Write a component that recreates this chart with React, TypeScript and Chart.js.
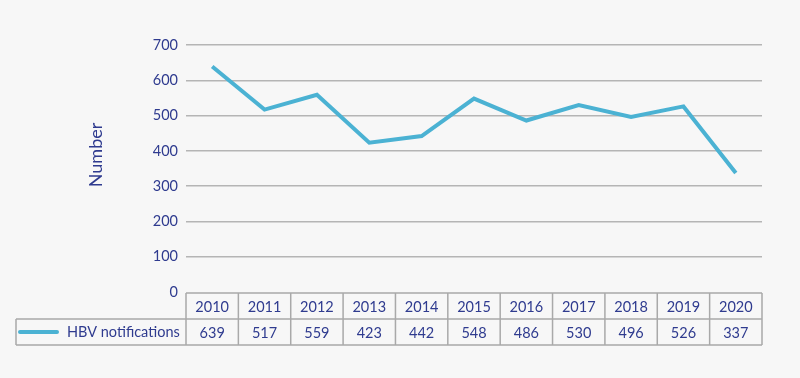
import React, { useEffect, useRef } from "react";
import { Chart, registerables } from "chart.js";

Chart.register(...registerables);

const years = ["2010", "2011", "2012", "2013", "2014", "2015", "2016", "2017", "2018", "2019", "2020"];
const hbvNotifications = [639, 517, 559, 423, 442, 548, 486, 530, 496, 526, 337];
const seriesLabel = "HBV notifications";
const yTitle = "Number";

const NAVY = "#2f3b8f";
const LINE = "#4bb2d3";
const GRID = "#b5b5b5";
const BORDER = "#a9a9a9";
const BG = "#f7f7f7";
const FONT = "Lato, 'Noto Sans', sans-serif";

const tablePlugin = {
  id: "dataTable",
  afterDraw(chart: any) {
    const ctx = chart.ctx;
    const x = chart.scales.x;
    const area = chart.chartArea;
    const top = area.bottom + 1;
    const rowH = 26;
    const left = 16;
    const right = area.right;
    ctx.save();
    ctx.strokeStyle = BORDER;
    ctx.lineWidth = 1.5;
    ctx.beginPath();
    ctx.moveTo(area.left, top);
    ctx.lineTo(right, top);
    ctx.moveTo(left, top + rowH);
    ctx.lineTo(right, top + rowH);
    ctx.moveTo(left, top + 2 * rowH);
    ctx.lineTo(right, top + 2 * rowH);
    ctx.moveTo(left, top + rowH);
    ctx.lineTo(left, top + 2 * rowH);
    const step = (area.right - area.left) / years.length;
    for (let i = 0; i <= years.length; i++) {
      const cx = area.left + i * step;
      ctx.moveTo(cx, top);
      ctx.lineTo(cx, top + 2 * rowH);
    }
    ctx.stroke();

    ctx.fillStyle = NAVY;
    ctx.font = "14.5px " + FONT;
    ctx.textAlign = "center";
    ctx.textBaseline = "middle";
    years.forEach((y, i) => {
      const cx = x.getPixelForValue(i);
      ctx.fillText(y, cx, top + rowH / 2 + 1);
      ctx.fillText(String(hbvNotifications[i]), cx, top + rowH * 1.5 + 1);
    });
    ctx.strokeStyle = LINE;
    ctx.lineWidth = 4;
    ctx.lineCap = "round";
    ctx.beginPath();
    ctx.moveTo(20, top + rowH * 1.5);
    ctx.lineTo(57, top + rowH * 1.5);
    ctx.stroke();
    ctx.textAlign = "left";
    ctx.fillText(seriesLabel, 67, top + rowH * 1.5);

    ctx.save();
    ctx.translate(96, 155);
    ctx.rotate(-Math.PI / 2);
    ctx.textAlign = "center";
    ctx.font = "18px " + FONT;
    ctx.fillText(yTitle, 0, 0);
    ctx.restore();
    ctx.restore();
  },
};

export default function App() {
  const ref = useRef<HTMLCanvasElement>(null);
  useEffect(() => {
    document.body.style.margin = "0";
    document.body.style.background = BG;
    const chart = new Chart(ref.current!, {
      type: "line",
      data: {
        labels: years,
        datasets: [
          {
            label: seriesLabel,
            data: hbvNotifications,
            borderColor: LINE,
            backgroundColor: LINE,
            borderWidth: 4,
            pointRadius: 0,
            tension: 0,
          },
        ],
      },
      options: {
        responsive: false,
        animation: false,
        layout: { padding: { top: 45, bottom: 86, right: 38, left: 0 } },
        plugins: { legend: { display: false }, tooltip: { enabled: false } },
        scales: {
          x: {
            display: false,
            offset: true,
            grid: { offset: true },
          },
          y: {
            min: 0,
            max: 700,
            afterFit(scale: any) {
              scale.width = 186;
            },
            border: { display: false },
            grid: {
              color: (c: any) => (c.tick && c.tick.value === 0 ? "rgba(0,0,0,0)" : GRID),
              lineWidth: 1.5,
              drawTicks: false,
            },
            ticks: {
              stepSize: 100,
              padding: 8,
              color: NAVY,
              font: { family: FONT, size: 14.5 },
            },
          },
        },
      },
      plugins: [tablePlugin],
    });
    return () => chart.destroy();
  }, []);
  return (
    <div style={{ width: 800, height: 378, background: BG }}>
      <canvas ref={ref} width={800} height={378} style={{ display: "block" }} />
    </div>
  );
}
